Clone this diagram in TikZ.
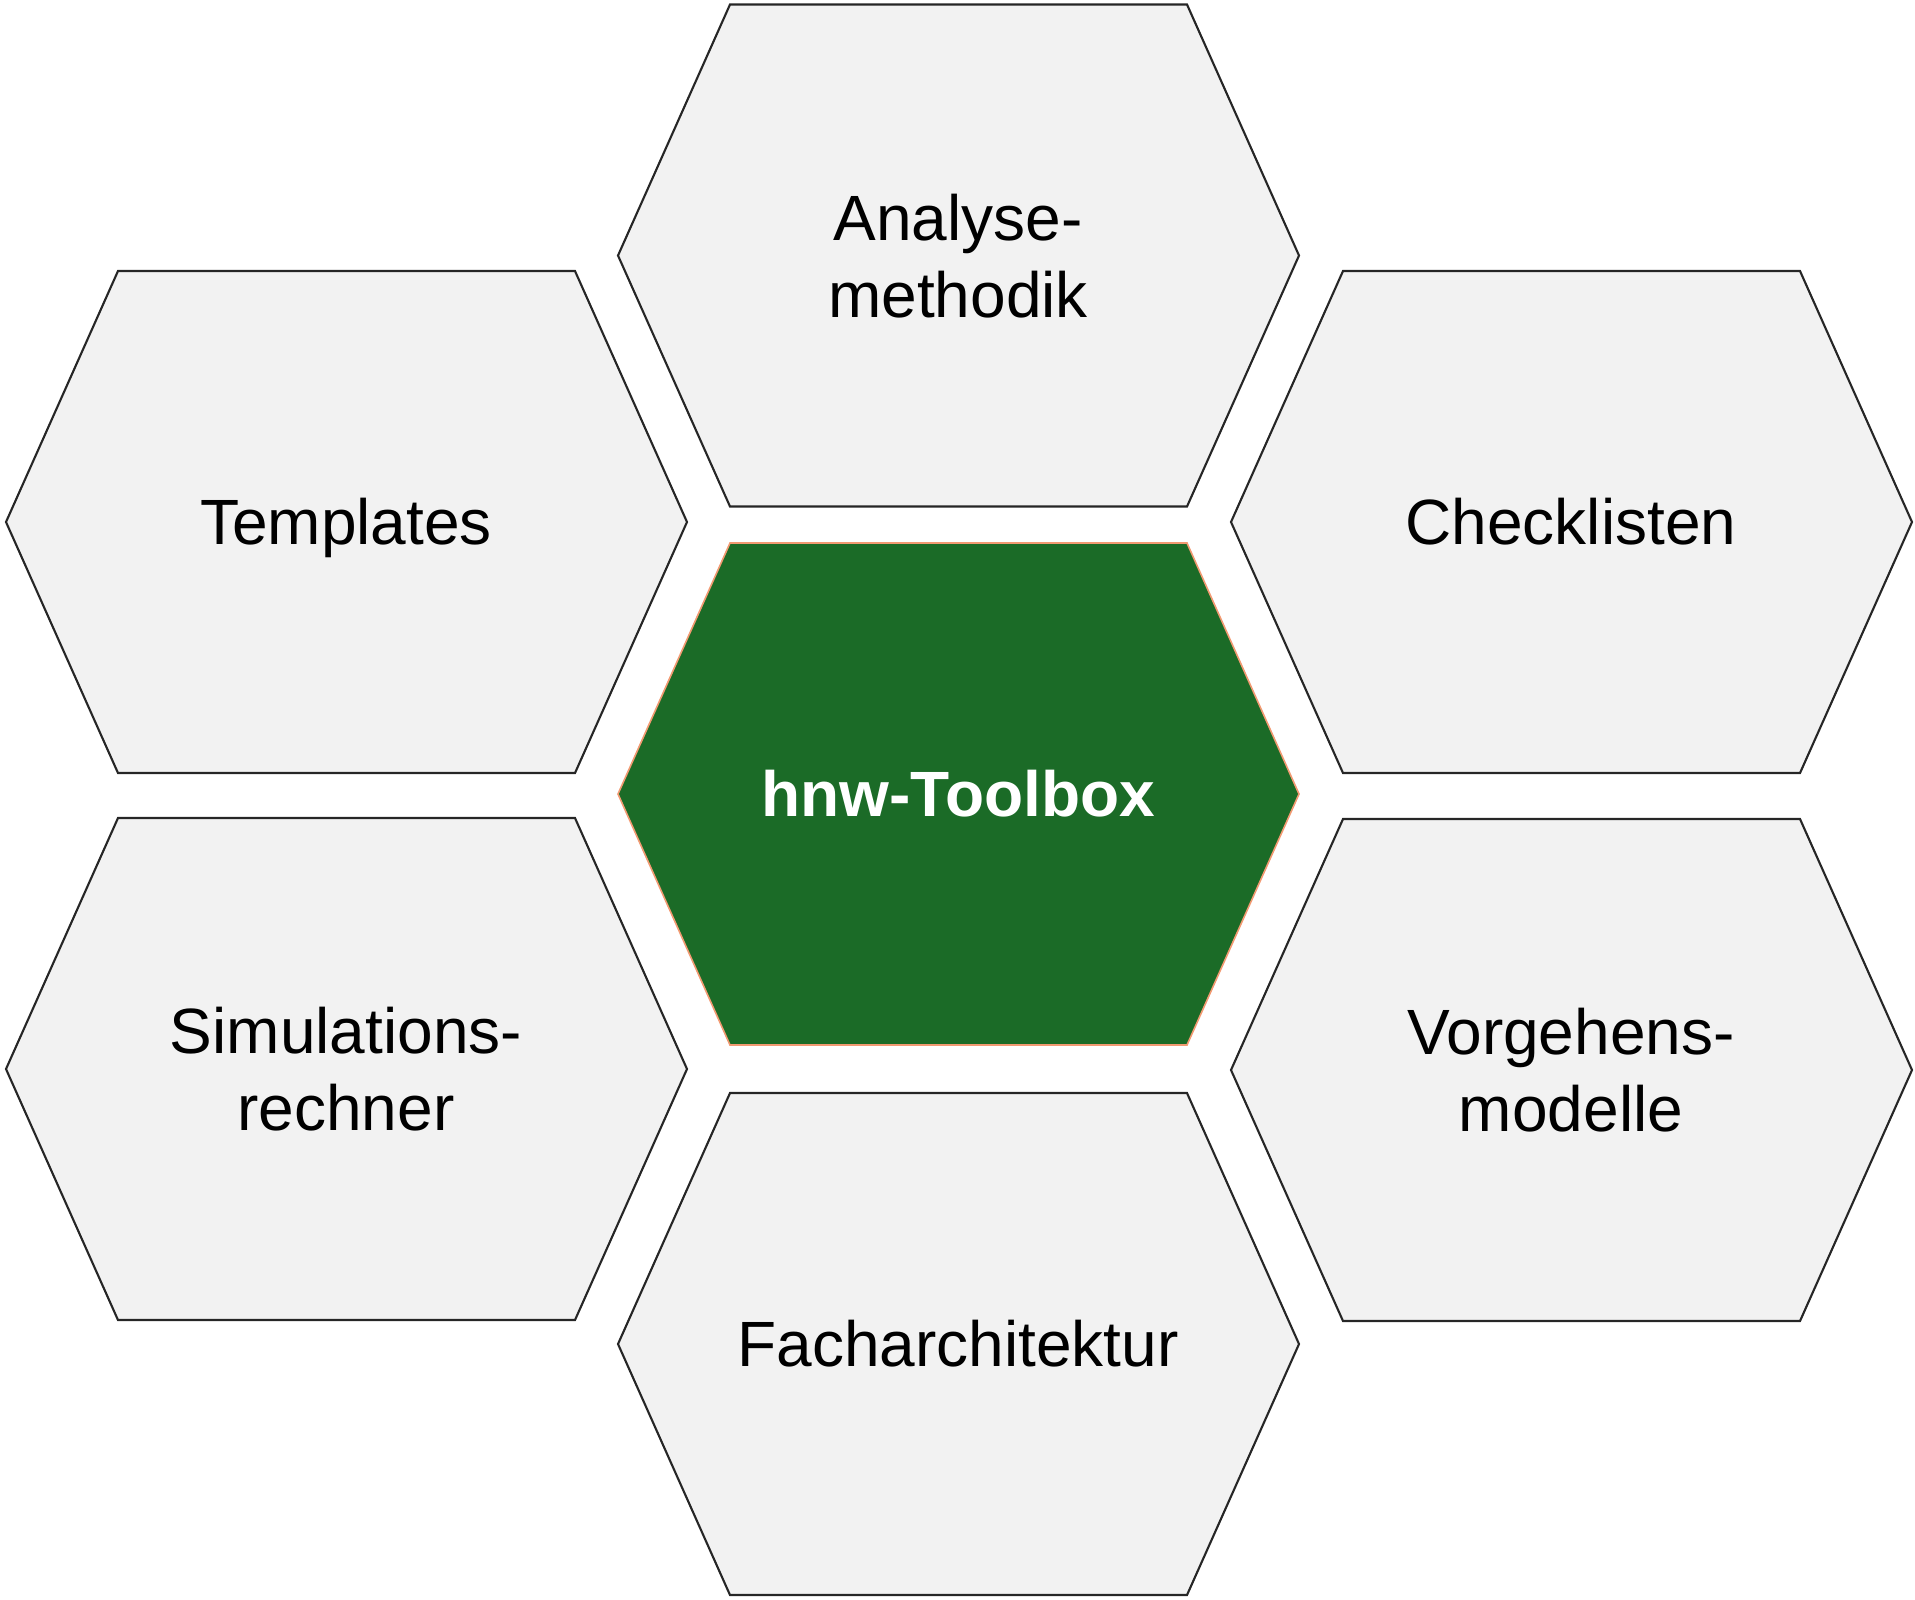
\documentclass[tikz,border=0pt]{standalone}
\usepackage{fontspec}
\setmainfont{Liberation Sans}
\usepackage{xcolor}
\usepackage{tikz}
\usetikzlibrary{calc}
\definecolor{cellbg}{HTML}{F2F2F2}
\definecolor{cellline}{HTML}{262626}
\definecolor{hubbg}{HTML}{1B6B27}
\definecolor{hubline}{HTML}{F29A72}
\tikzset{
  cell/.style={fill=cellbg, draw=cellline, line width=0.6pt, line join=miter},
  hub/.style={fill=hubbg, draw=hubline, line width=0.45pt, line join=miter},
  lab/.style={text=black, font=\fontsize{18.2pt}{21.8pt}\selectfont, align=center, inner sep=0pt, anchor=base},
  hublab/.style={lab, text=white, font=\fontsize{18.2pt}{21.8pt}\selectfont\bfseries},
}

\begin{document}
\begin{tikzpicture}[x=0.01cm, y=-0.01cm]
  \useasboundingbox (0,0) rectangle (1915,1599);
  % centres of the honeycomb cells (pixel grid, y down)
  \coordinate (cA) at (958,255.5);
  \coordinate (cT) at (346,522);
  \coordinate (cC) at (1571,522);
  \coordinate (cH) at (958,794);
  \coordinate (cS) at (346,1069);
  \coordinate (cV) at (1571,1070);
  \coordinate (cF) at (958,1344);
  \foreach \c in {cA,cT,cC,cS,cV,cF}
    \draw[cell] ($(\c)+(-340,0)$) -- ++(112,-251) -- ++(457,0) -- ++(112,251)
      -- ++(-112,251) -- ++(-457,0) -- cycle;
  \draw[hub] ($(cH)+(-340,0)$) -- ++(112,-251) -- ++(457,0) -- ++(112,251)
    -- ++(-112,251) -- ++(-457,0) -- cycle;
  % labels (two-line ones sit on the baseline of their last line)
  \node[lab] (analyse) at ($(cA)+(0,61.5)$) {Analyse-\\methodik};
  \node[lab] (templates) at ($(cT)+(0,22)$) {Templates};
  \node[lab] (checklisten) at ($(cC)+(0,22)$) {Checklisten};
  \node[hublab] (toolbox) at ($(cH)+(0,22)$) {hnw-Toolbox};
  \node[lab] (simulation) at ($(cS)+(0,61.5)$) {Simulations-\\rechner};
  \node[lab] (vorgehen) at ($(cV)+(0,61.5)$) {Vorgehens-\\modelle};
  \node[lab] (fach) at ($(cF)+(0,22)$) {Facharchitektur};
\end{tikzpicture}
\end{document}
